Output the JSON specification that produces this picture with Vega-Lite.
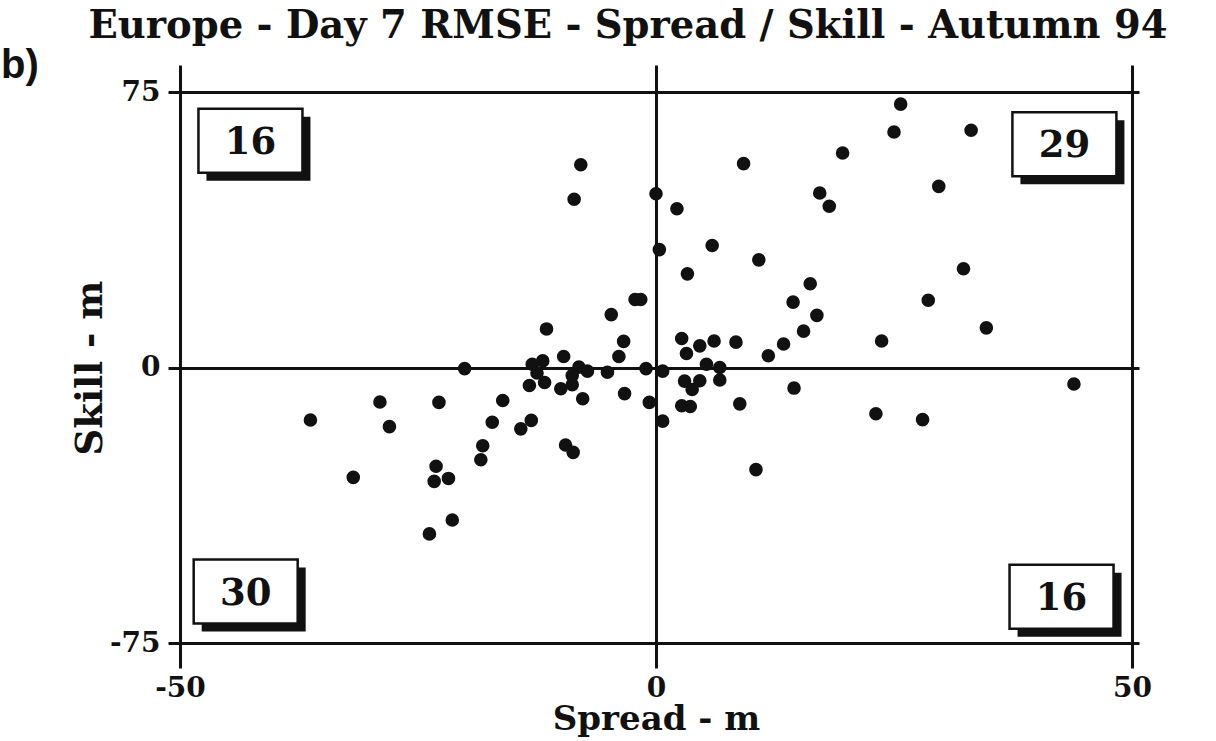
{
  "$schema": "https://vega.github.io/schema/vega-lite/v6.json",
  "width": 952,
  "height": 551,
  "autosize": "none",
  "padding": {"left": 180, "top": 92, "right": 84, "bottom": 98},
  "background": "white",
  "title": {
    "text": "Europe - Day 7 RMSE - Spread / Skill - Autumn 94",
    "font": "DejaVu Serif",
    "fontWeight": "bold",
    "fontSize": 38.5,
    "color": "#111",
    "anchor": "middle",
    "baseline": "alphabetic",
    "dx": -28,
    "offset": -30
  },
  "config": {
    "view": {"stroke": null},
    "axis": {
      "domainColor": "#111",
      "domainWidth": 3,
      "tickColor": "#111",
      "tickWidth": 3,
      "gridColor": "#111",
      "gridWidth": 3,
      "gridOpacity": 1,
      "labelFlush": false,
      "labelFont": "DejaVu Serif",
      "labelFontWeight": "bold",
      "labelFontSize": 28,
      "labelColor": "#111",
      "titleFont": "DejaVu Serif",
      "titleFontWeight": "bold",
      "titleFontSize": 34,
      "titleColor": "#111"
    }
  },
  "resolve": {"axis": {"x": "independent", "y": "independent"}},
  "datasets": {
    "pts": [
      {"spread": -7.9, "skill": 55.2}, {"spread": -8.6, "skill": 45.8}, {"spread": -2.2, "skill": 18.5},
      {"spread": -1.6, "skill": 18.5}, {"spread": -4.7, "skill": 14.4}, {"spread": -11.5, "skill": 10.5},
      {"spread": -3.4, "skill": 7.1}, {"spread": -3.9, "skill": 3.0}, {"spread": -9.7, "skill": 3.0},
      {"spread": -11.9, "skill": 1.8}, {"spread": -13.0, "skill": 0.9}, {"spread": -20.1, "skill": -0.3},
      {"spread": -8.1, "skill": 0.1}, {"spread": -7.2, "skill": -1.0}, {"spread": -5.1, "skill": -1.3},
      {"spread": -1.05, "skill": -0.3},
      {"spread": 0.0, "skill": 47.3}, {"spread": 25.7, "skill": 71.7}, {"spread": 25.0, "skill": 64.1},
      {"spread": 33.1, "skill": 64.6}, {"spread": 19.6, "skill": 58.4}, {"spread": 9.2, "skill": 55.5},
      {"spread": 2.2, "skill": 43.2}, {"spread": 17.2, "skill": 47.5}, {"spread": 18.2, "skill": 43.9},
      {"spread": 29.7, "skill": 49.3}, {"spread": 0.35, "skill": 32.1}, {"spread": 5.9, "skill": 33.2},
      {"spread": 10.8, "skill": 29.3}, {"spread": 3.3, "skill": 25.5}, {"spread": 32.3, "skill": 26.9},
      {"spread": 16.2, "skill": 22.8}, {"spread": 14.4, "skill": 17.8}, {"spread": 28.6, "skill": 18.3},
      {"spread": 16.9, "skill": 14.2}, {"spread": 34.7, "skill": 10.8}, {"spread": 15.5, "skill": 9.9},
      {"spread": 23.7, "skill": 7.2}, {"spread": 13.4, "skill": 6.4}, {"spread": 11.8, "skill": 3.2},
      {"spread": 8.4, "skill": 6.9}, {"spread": 6.1, "skill": 7.2}, {"spread": 4.6, "skill": 5.9},
      {"spread": 2.7, "skill": 7.9}, {"spread": 3.2, "skill": 3.8}, {"spread": 5.3, "skill": 0.9},
      {"spread": 6.7, "skill": 0.0},
      {"spread": 0.7, "skill": -1.0}, {"spread": 6.7, "skill": -3.4}, {"spread": 4.6, "skill": -3.6},
      {"spread": 3.0, "skill": -3.7}, {"spread": 3.8, "skill": -6.0}, {"spread": 2.7, "skill": -10.4},
      {"spread": 3.6, "skill": -10.6}, {"spread": 0.7, "skill": -14.6}, {"spread": 8.8, "skill": -9.9},
      {"spread": 14.5, "skill": -5.6}, {"spread": 23.1, "skill": -12.6}, {"spread": 28.0, "skill": -14.2},
      {"spread": 43.9, "skill": -4.5}, {"spread": 10.5, "skill": -27.8},
      {"spread": -12.5, "skill": -1.5}, {"spread": -13.3, "skill": -4.9}, {"spread": -11.7, "skill": -4.1},
      {"spread": -10.0, "skill": -5.8}, {"spread": -8.8, "skill": -4.7}, {"spread": -8.8, "skill": -2.2},
      {"spread": -7.7, "skill": -8.5}, {"spread": -3.3, "skill": -7.1}, {"spread": -0.7, "skill": -9.5},
      {"spread": -16.1, "skill": -9.0}, {"spread": -13.1, "skill": -14.4}, {"spread": -14.2, "skill": -16.7},
      {"spread": -17.2, "skill": -14.9}, {"spread": -18.2, "skill": -21.3}, {"spread": -18.4, "skill": -25.1},
      {"spread": -9.5, "skill": -21.1}, {"spread": -8.7, "skill": -23.1}, {"spread": -22.8, "skill": -9.5},
      {"spread": -29.0, "skill": -9.4}, {"spread": -28.0, "skill": -16.1}, {"spread": -36.3, "skill": -14.3},
      {"spread": -31.8, "skill": -29.9}, {"spread": -23.1, "skill": -26.9}, {"spread": -23.3, "skill": -31.0},
      {"spread": -21.8, "skill": -30.2}, {"spread": -21.4, "skill": -41.5}, {"spread": -23.8, "skill": -45.3}
    ],
    "counts": [
      {"quadrant": "upper left", "count": "16", "cx": -42.6, "cy": 61.7},
      {"quadrant": "upper right", "count": "29", "cx": 42.9, "cy": 60.8},
      {"quadrant": "lower left", "count": "30", "cx": -43.1, "cy": -61.0},
      {"quadrant": "lower right", "count": "16", "cx": 42.6, "cy": -62.4}
    ],
    "panel": [
      {"label": "b)", "px": -68.8, "py": 82}
    ]
  },
  "layer": [
    {
      "data": {"name": "pts"},
      "mark": {"type": "circle", "size": 185, "color": "#111", "opacity": 1},
      "encoding": {
        "x": {
          "field": "spread", "type": "quantitative", "title": "Spread - m",
          "scale": {"domain": [-50, 50], "nice": false, "zero": false},
          "axis": {"orient": "bottom", "values": [-50, 0, 50], "tickSize": 25, "labelPadding": 6, "titlePadding": 0, "grid": true,
            "labelExpr": "datum.value < 0 ? '-' + abs(datum.value) : '' + datum.value"}
        },
        "y": {
          "field": "skill", "type": "quantitative", "title": "Skill - m",
          "scale": {"domain": [-75, 75], "nice": false, "zero": false},
          "axis": {"orient": "left", "values": [-75, 0, 75], "tickSize": 12, "labelPadding": 8, "titlePadding": 0, "titleFontSize": 37, "grid": true,
            "labelExpr": "datum.value < 0 ? '-' + abs(datum.value) : '' + datum.value"}
        }
      }
    },
    {
      "data": {"name": "pts"},
      "mark": {"type": "circle", "size": 0, "opacity": 0},
      "encoding": {
        "x": {"field": "spread", "type": "quantitative",
          "axis": {"orient": "top", "values": [-50, 0, 50], "tickSize": 27, "labels": false, "title": null, "grid": false}},
        "y": {"field": "skill", "type": "quantitative",
          "axis": {"orient": "right", "values": [-75, 0, 75], "tickSize": 7, "labels": false, "title": null, "grid": false}}
      }
    },
    {
      "data": {"name": "counts"},
      "mark": {"type": "rect", "width": 104, "height": 64, "xOffset": 8, "yOffset": 8, "color": "#111"},
      "encoding": {
        "x": {"field": "cx", "type": "quantitative", "axis": null},
        "y": {"field": "cy", "type": "quantitative", "axis": null}
      }
    },
    {
      "data": {"name": "counts"},
      "mark": {"type": "rect", "width": 104, "height": 64, "fill": "white", "stroke": "#111", "strokeWidth": 2.5},
      "encoding": {
        "x": {"field": "cx", "type": "quantitative", "axis": null},
        "y": {"field": "cy", "type": "quantitative", "axis": null}
      }
    },
    {
      "data": {"name": "counts"},
      "mark": {"type": "text", "font": "DejaVu Serif", "fontWeight": "bold", "fontSize": 37, "color": "#111", "align": "center", "baseline": "middle", "dy": 2},
      "encoding": {
        "x": {"field": "cx", "type": "quantitative", "axis": null},
        "y": {"field": "cy", "type": "quantitative", "axis": null},
        "text": {"field": "count"}
      }
    },
    {
      "data": {"name": "panel"},
      "mark": {"type": "text", "font": "Liberation Sans", "fontWeight": "bold", "fontSize": 40, "color": "#111", "align": "left", "baseline": "middle", "clip": false},
      "encoding": {
        "x": {"field": "px", "type": "quantitative", "axis": null},
        "y": {"field": "py", "type": "quantitative", "axis": null},
        "text": {"field": "label"}
      }
    }
  ]
}
